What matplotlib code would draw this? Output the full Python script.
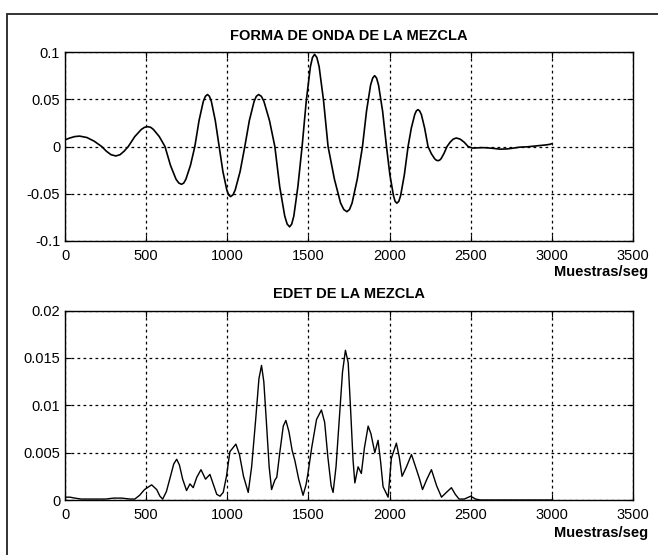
import matplotlib
matplotlib.use("Agg")
import matplotlib.pyplot as plt
from matplotlib.patches import Rectangle

plt.rcParams['font.family'] = ['Liberation Sans', 'DejaVu Sans']

# Mixture waveform: sample index and amplitude (one half-cycle per line)
wave_samples = [0, 30, 60, 90, 135, 181, 226,
                255, 284, 313, 339, 364, 390,
                430, 470, 490, 510, 528, 545, 581, 616,
                650, 684, 701, 718, 732, 745, 773, 800,
                826, 852, 865, 878, 890, 902, 926, 950,
                973, 997, 1008, 1020, 1035, 1049, 1079, 1108,
                1136, 1165, 1179, 1193, 1210, 1226, 1260, 1293,
                1323, 1354, 1369, 1384, 1397, 1410, 1435, 1461,
                1487, 1512, 1525, 1538, 1552, 1566, 1593, 1621,
                1660, 1698, 1718, 1737, 1753, 1769, 1801, 1833,
                1858, 1883, 1896, 1908, 1920, 1932, 1957, 1981,
                2002, 2024, 2034, 2045, 2057, 2068, 2091, 2114,
                2134, 2155, 2165, 2175, 2185, 2196, 2216, 2237,
                2257, 2278, 2288, 2298, 2308, 2317, 2335, 2354,
                2373, 2392, 2411, 2435, 2460, 2484,
                2512, 2540, 2570, 2600, 2640, 2680, 2720, 2760, 2802,
                2850, 2900, 2925, 2960, 2985, 3000]
wave_values = [0.007, 0.009, 0.0105, 0.011, 0.0095, 0.0055, 0.0,
               -0.005, -0.0087, -0.010, -0.0087, -0.005, 0.0,
               0.0105, 0.018, 0.0203, 0.021, 0.0203, 0.018, 0.0105, 0.0,
               -0.020, -0.0346, -0.0386, -0.040, -0.0386, -0.0346, -0.020, 0.0,
               0.0275, 0.0476, 0.0531, 0.055, 0.0531, 0.0476, 0.0275, 0.0,
               -0.0265, -0.0459, -0.0512, -0.053, -0.0512, -0.0459, -0.0265, 0.0,
               0.0275, 0.0476, 0.0531, 0.055, 0.0531, 0.0476, 0.0275, 0.0,
               -0.0425, -0.0736, -0.0821, -0.085, -0.0821, -0.0736, -0.0425, 0.0,
               0.0488, 0.0844, 0.0942, 0.0975, 0.0942, 0.0844, 0.0488, 0.0,
               -0.0345, -0.0598, -0.0667, -0.069, -0.0667, -0.0598, -0.0345, 0.0,
               0.0375, 0.065, 0.0724, 0.075, 0.0724, 0.065, 0.0375, 0.0,
               -0.030, -0.052, -0.058, -0.060, -0.058, -0.052, -0.030, 0.0,
               0.0195, 0.0338, 0.0377, 0.039, 0.0377, 0.0338, 0.0195, 0.0,
               -0.0075, -0.013, -0.0145, -0.015, -0.0145, -0.013, -0.0075, 0.0,
               0.0045, 0.0078, 0.009, 0.0078, 0.0045, 0.0,
               -0.0017, -0.0015, -0.0012, -0.0014, -0.002, -0.0028, -0.0026,
               -0.0018, -0.0007, -0.0003, 0.0005, 0.001, 0.0016, 0.0022, 0.003]

# EDET of the mixture: sample index and energy
edet_samples = [0, 30, 60, 100, 150, 200, 250, 300, 350, 400, 430, 460, 490, 534,
                565, 585, 602, 625, 650, 670, 688, 705, 725, 749, 770, 790, 812,
                838, 866, 893, 915, 935, 955, 975, 995, 1016, 1053, 1075, 1100,
                1129, 1150, 1175, 1195, 1211, 1225, 1240, 1258, 1273, 1293, 1305,
                1325, 1345, 1361, 1380, 1400, 1416, 1440, 1467, 1485, 1498, 1520,
                1550, 1580, 1600, 1620, 1640, 1652, 1670, 1690, 1710, 1728, 1745,
                1760, 1775, 1786, 1806, 1826, 1845, 1868, 1885, 1909, 1929, 1945,
                1960, 1991, 2011, 2042, 2060, 2077, 2104, 2135, 2166, 2185, 2203,
                2230, 2258, 2290, 2320, 2350, 2381, 2405, 2428, 2460, 2500, 2530,
                2560, 3000]
edet_values = [0.0003, 0.0003, 0.0002, 0.0001, 0.0001, 0.0001, 0.0001, 0.0002,
               0.0002, 0.0001, 0.0001, 0.0005, 0.0011, 0.0016, 0.0011, 0.0004,
               0.0001, 0.0009, 0.0025, 0.0038, 0.0043, 0.0037, 0.0022, 0.001,
               0.0017, 0.0013, 0.0024, 0.0032, 0.0022, 0.0027, 0.0016, 0.0006,
               0.0004, 0.0008, 0.0025, 0.0051, 0.0059, 0.0048, 0.0025, 0.0008,
               0.0035, 0.0085, 0.0128, 0.0142, 0.0125, 0.0085, 0.0035, 0.0011,
               0.0021, 0.0024, 0.0052, 0.0078, 0.0084, 0.0072, 0.0052, 0.0042,
               0.0022, 0.0005, 0.0016, 0.0029, 0.0055, 0.0085, 0.0095, 0.0082,
               0.0045, 0.0015, 0.0008, 0.0035, 0.0085, 0.0135, 0.0158, 0.0145,
               0.0095, 0.0042, 0.0018, 0.0035, 0.0028, 0.0055, 0.0078, 0.0070,
               0.0050, 0.0063, 0.0040, 0.0014, 0.0003, 0.0044, 0.0060, 0.0045,
               0.0025, 0.0035, 0.0048, 0.0032, 0.0022, 0.0011, 0.0022, 0.0032,
               0.0015, 0.0003, 0.0008, 0.0013, 0.0006, 0.0001, 0.0001, 0.0004,
               0.0001, 0.0, 0.0]

x_ticks = [0, 500, 1000, 1500, 2000, 2500, 3000, 3500]
wave_ticks = [-0.1, -0.05, 0, 0.05, 0.1]
wave_tick_labels = ['-0.1', '-0.05', '0', '0.05', '0.1']
edet_ticks = [0, 0.005, 0.01, 0.015, 0.02]
edet_tick_labels = ['0', '0.005', '0.01', '0.015', '0.02']

W, H = 658, 555
fig = plt.figure(figsize=(W / 100, H / 100), dpi=100)
fig.patch.set_facecolor('white')

# outer frame (only its top and left edges fall inside the image)
fig.patches.append(Rectangle((7 / W, -0.2), 1.2, 1.2 - 14 / H,
                             transform=fig.transFigure, fill=False,
                             edgecolor='#333333', linewidth=1.4))

grid_kw = dict(color='black', linestyle=(0, (2.2, 2.6)), linewidth=0.9)


def style_axes(ax, yticks, ylabels, ylim, title):
    ax.set_xlim(0, 3500)
    ax.set_ylim(*ylim)
    ax.set_xticks(x_ticks)
    ax.set_xticklabels([str(t) for t in x_ticks])
    ax.set_yticks(yticks)
    ax.set_yticklabels(ylabels)
    ax.tick_params(direction='in', length=4, width=0.8, top=True, right=True,
                   labelsize=10.5, colors='black')
    ax.tick_params(axis='x', pad=5.5)
    ax.tick_params(axis='y', pad=3.5)
    ax.grid(True, **grid_kw)
    for sp in ax.spines.values():
        sp.set_linewidth(1.0)
        sp.set_color('black')
    ax.set_title(title, fontsize=10.5, fontweight='bold', pad=9)


ax1 = fig.add_axes([65 / W, 1 - 241 / H, 568 / W, 189 / H])
ax1.plot(wave_samples, wave_values, color='black', linewidth=1.2)
style_axes(ax1, wave_ticks, wave_tick_labels, (-0.1, 0.1), 'FORMA DE ONDA DE LA MEZCLA')

ax2 = fig.add_axes([65 / W, 1 - 500 / H, 568 / W, 189.5 / H])
ax2.plot(edet_samples, edet_values, color='black', linewidth=1.0)
style_axes(ax2, edet_ticks, edet_tick_labels, (0, 0.02), 'EDET DE LA MEZCLA')

fig.text(648 / W, 1 - 272 / H, 'Muestras/seg', ha='right', va='center',
         fontsize=10.5, fontweight='bold')
fig.text(648 / W, 1 - 533 / H, 'Muestras/seg', ha='right', va='center',
         fontsize=10.5, fontweight='bold')

fig.savefig('out.png', dpi=100)
